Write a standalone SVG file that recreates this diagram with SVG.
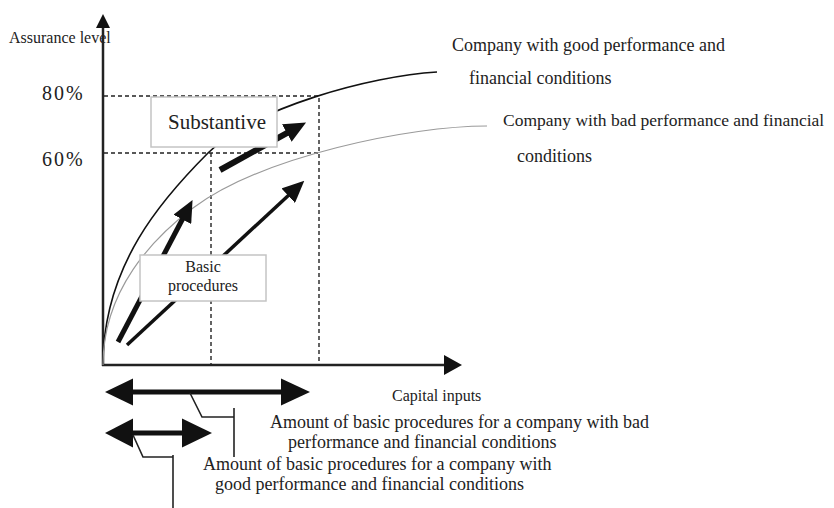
<svg xmlns="http://www.w3.org/2000/svg" width="834" height="508" viewBox="0 0 834 508">
<style>
text{font-family:"Liberation Serif","Times New Roman",serif;fill:#222}
.axis{stroke:#222;stroke-width:2.5;fill:none}
.dash{stroke:#222;stroke-width:1.4;stroke-dasharray:4,3;fill:none}
.box{fill:#fff;stroke:#c4c4c4;stroke-width:1.5}
.lead{stroke:#222;stroke-width:1.6;fill:none}
.head{fill:#111}
</style>
<defs>
<marker id="ah" viewBox="0 0 22 20" refX="1" refY="10" markerWidth="22" markerHeight="20" markerUnits="userSpaceOnUse" orient="auto">
<path d="M0,0 L22,10 L0,20 z" fill="#111"/>
</marker>
</defs>
<rect width="834" height="508" fill="#fff"/>
<g id="axes">
<line class="axis" x1="103" y1="366" x2="103" y2="24"/>
<polygon class="head" points="103,14 96,28 110,28"/>
<line class="axis" x1="102" y1="365" x2="446" y2="365"/>
<polygon class="head" points="462,365 444,355 444,375"/>
<text x="9" y="43" font-size="16">Assurance level</text>
<text x="392" y="401" font-size="16">Capital inputs</text>
<text x="42" y="100" font-size="20" letter-spacing="2">80%</text>
<text x="42" y="166" font-size="20" letter-spacing="2">60%</text>
</g>
<g id="guides">
<polyline class="dash" points="104,96 319,96 319,365"/>
<polyline class="dash" points="104,153 319,153"/>
<line class="dash" x1="211" y1="153" x2="211" y2="365"/>
</g>
<g id="curves">
<path d="M103,365 C103,265 163,198 208,153 C253,108 370,76 437,72" fill="none" stroke="#111" stroke-width="1.6"/>
<path d="M103,365 C103,290 153,238 193,208 C263,156 410,126 487,126" fill="none" stroke="#9a9a9a" stroke-width="1.2"/>
</g>
<g id="connectors">
<line x1="118" y1="342" x2="182.8" y2="218.5" stroke="#111" stroke-width="5" marker-end="url(#ah)"/>
<line x1="127" y1="345" x2="288.9" y2="195" stroke="#111" stroke-width="3.5" marker-end="url(#ah)"/>
<line x1="220" y1="170" x2="287.7" y2="132.6" stroke="#111" stroke-width="6" marker-end="url(#ah)"/>
</g>
<g id="node-substantive">
<rect class="box" x="151" y="97" width="126" height="50"/>
<text x="217" y="129" font-size="21" text-anchor="middle">Substantive</text>
</g>
<g id="node-basic">
<rect class="box" x="140" y="255" width="126" height="46"/>
<text x="203" y="272" font-size="16" text-anchor="middle">Basic</text>
<text x="203" y="291" font-size="16" text-anchor="middle">procedures</text>
</g>
<g id="label-good">
<text x="452" y="51" font-size="18">Company with good performance and</text>
<text x="469" y="84" font-size="18">financial conditions</text>
</g>
<g id="label-bad">
<text x="503" y="126" font-size="17.5">Company with bad performance and financial</text>
<text x="517" y="162" font-size="18">conditions</text>
</g>
<g id="range-bad">
<line x1="132" y1="392" x2="282" y2="392" stroke="#111" stroke-width="5"/>
<polygon class="head" points="105,392 133,378.5 133,405.5"/>
<polygon class="head" points="310,392 281,378.5 281,405.5"/>
<polyline class="lead" points="190,393 202,417 234,417"/>
<line class="lead" x1="234" y1="408" x2="234" y2="457"/>
<text x="270" y="428" font-size="18">Amount of basic procedures for a company with bad</text>
<text x="288" y="448" font-size="18">performance and financial conditions</text>
</g>
<g id="range-good">
<line x1="132" y1="433" x2="184" y2="433" stroke="#111" stroke-width="5"/>
<polygon class="head" points="105,433 133,418.5 133,447.5"/>
<polygon class="head" points="212,433 182,418.5 182,447.5"/>
<polyline class="lead" points="133,435 143,457 173,457"/>
<line class="lead" x1="173" y1="455" x2="173" y2="508"/>
<text x="203" y="470" font-size="18">Amount of basic procedures for a company with</text>
<text x="215" y="490" font-size="18">good performance and financial conditions</text>
</g>
</svg>
